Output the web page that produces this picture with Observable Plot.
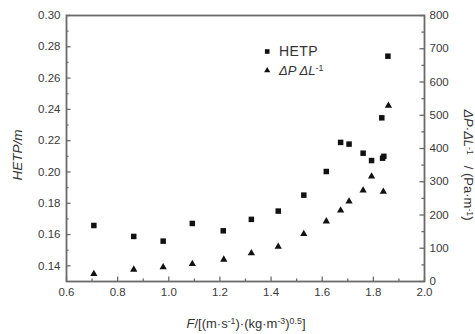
<!DOCTYPE html>
<html>
<head>
<meta charset="utf-8">
<script src="https://cdn.jsdelivr.net/npm/d3@7"></script>
<script src="https://cdn.jsdelivr.net/npm/@observablehq/plot@0.6"></script>
<style>
  body { margin: 0; background: #fff; }
  #wrap { position: relative; width: 475px; height: 334px; font-family: "Liberation Sans", Arial, sans-serif; color: #333; }
  #wrap svg { position: absolute; left: 0; top: 0; }
  .lab { position: absolute; white-space: nowrap; color: #333; }
  .lab sup { font-size: 0.68em; vertical-align: 0.45em; line-height: 0; }
</style>
</head>
<body>
<div id="wrap">
  <div class="lab" id="ytitle" style="left:17px;top:155px;font-size:13.5px;font-style:italic;transform:translate(-50%,-50%) rotate(-90deg);">HETP/m</div>
  <div class="lab" id="y2title" style="left:468px;top:165px;font-size:13px;transform:translate(-50%,-50%) rotate(90deg);"><i>ΔP</i>·<i>ΔL</i><sup>-1</sup>&nbsp;&nbsp; / (Pa·m<sup>-1</sup>)</div>
  <div class="lab" id="xtitle" style="left:246px;top:323px;font-size:13px;transform:translate(-50%,-50%);"><i>F</i>/[(m·s<sup>-1</sup>)·(kg·m<sup>-3</sup>)<sup>0.5</sup>]</div>
  <div class="lab" style="left:279px;top:51px;font-size:14px;transform:translate(0,-50%);letter-spacing:0.4px;">HETP</div>
  <div class="lab" style="left:279px;top:70px;font-size:13px;transform:translate(0,-50%);"><i>ΔP ΔL</i><sup>-1</sup></div>
</div>
<script>
// F-factor values for HETP (squares)
const fHetp = [0.707, 0.863, 0.978, 1.092, 1.213, 1.323, 1.428, 1.528, 1.616, 1.672, 1.705, 1.760, 1.793, 1.833, 1.836, 1.841, 1.857];
const hetp  = [0.1658, 0.1588, 0.1558, 0.1671, 0.1624, 0.1697, 0.1750, 0.1852, 0.2003, 0.2189, 0.2178, 0.2120, 0.2073, 0.2346, 0.2088, 0.2100, 0.2740];
// F-factor values for pressure drop (triangles)
const fDp = [0.707, 0.863, 0.978, 1.092, 1.215, 1.323, 1.428, 1.528, 1.616, 1.672, 1.705, 1.760, 1.793, 1.839, 1.859];
const dp  = [23, 36, 43, 53, 66, 85, 105, 143, 181, 214, 241, 274, 316, 270, 529];

const xMajor = [0.6, 0.8, 1.0, 1.2, 1.4, 1.6, 1.8, 2.0];
const xMinor = [0.7, 0.9, 1.1, 1.3, 1.5, 1.7, 1.9];
const yMajor = [0.14, 0.16, 0.18, 0.20, 0.22, 0.24, 0.26, 0.28, 0.30];
const yMinor = [0.15, 0.17, 0.19, 0.21, 0.23, 0.25, 0.27, 0.29];
const pMajor = [0, 100, 200, 300, 400, 500, 600, 700, 800];
const pMinor = [50, 150, 250, 350, 450, 550, 650, 750];

const yDomain = [0.13, 0.30];
const pDomain = [0, 800];
const toY = p => yDomain[0] + (p - pDomain[0]) / (pDomain[1] - pDomain[0]) * (yDomain[1] - yDomain[0]);
const fromY = y => Math.round(pDomain[0] + (y - yDomain[0]) / (yDomain[1] - yDomain[0]) * (pDomain[1] - pDomain[0]));

const hetpData = fHetp.map((f, i) => ({f, v: hetp[i]}));
const dpData = fDp.map((f, i) => ({f, v: toY(dp[i])}));

const W = 475, H = 334, mL = 66, mR = 51, mT = 15, mB = 53;
const fw = W - mL - mR, fh = H - mT - mB;
const axisStroke = "#6a6a6a";
const ink = "#111";
const big = 4.5, small = 2.5;
const tickStyle = {stroke: axisStroke, strokeWidth: 1.3};
const id = d => d;

const chart = Plot.plot({
  width: W,
  height: H,
  marginLeft: mL,
  marginRight: mR,
  marginTop: mT,
  marginBottom: mB,
  style: {fontFamily: "'Liberation Sans', Arial, sans-serif", fontSize: "11.5px", color: "#3a3a3a", background: "transparent"},
  x: {domain: [0.6, 2.0]},
  y: {domain: yDomain},
  marks: [
    // labels only
    Plot.axisX({ticks: xMajor, tickSize: 0, tickPadding: 6, tickFormat: d3.format(".1f"), label: null}),
    Plot.axisY({ticks: yMajor, tickSize: 0, tickPadding: 6, tickFormat: d3.format(".2f"), label: null}),
    Plot.axisY({anchor: "right", ticks: pMajor.map(toY), tickSize: 0, tickPadding: 5, tickFormat: y => String(fromY(y)), label: null}),
    // inward tick marks
    Plot.tickX(xMajor, {x: id, insetTop: fh - big, ...tickStyle}),
    Plot.tickX(xMinor, {x: id, insetTop: fh - small, ...tickStyle}),
    Plot.tickY(yMajor, {y: id, insetRight: fw - big, ...tickStyle}),
    Plot.tickY(yMinor, {y: id, insetRight: fw - small, ...tickStyle}),
    Plot.tickY(pMajor.map(toY), {y: id, insetLeft: fw - big, ...tickStyle}),
    Plot.tickY(pMinor.map(toY), {y: id, insetLeft: fw - small, ...tickStyle}),
    Plot.frame({stroke: axisStroke, strokeWidth: 1.8}),
    Plot.dot(hetpData, {x: "f", y: "v", symbol: "square", r: 3.1, fill: ink, stroke: "none"}),
    Plot.dot(dpData, {x: "f", y: "v", symbol: "triangle", r: 2.7, fill: ink, stroke: "none"}),
    // legend symbols
    Plot.dot([0], {frameAnchor: "top-left", dx: 200.7, dy: 36, symbol: "square", r: 2.6, fill: ink}),
    Plot.dot([0], {frameAnchor: "top-left", dx: 200.7, dy: 55, symbol: "triangle", r: 2.3, fill: ink})
  ]
});
document.getElementById("wrap").prepend(chart);
</script>
</body>
</html>
